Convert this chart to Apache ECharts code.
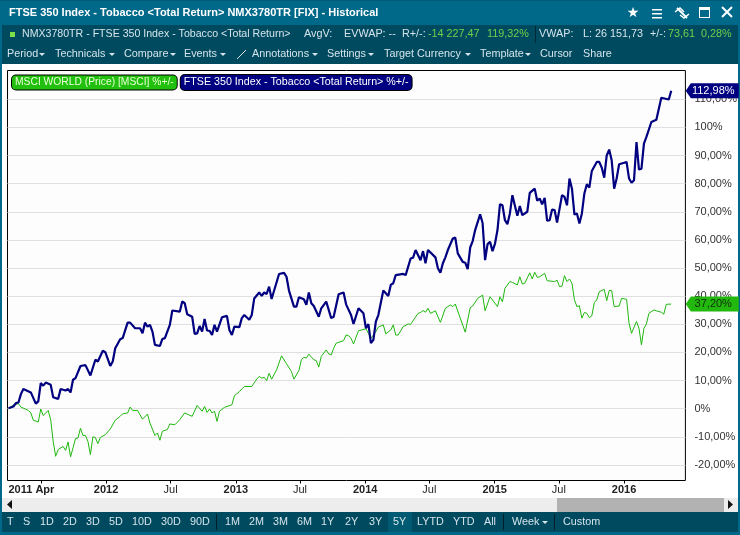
<!DOCTYPE html>
<html><head><meta charset="utf-8">
<style>html,body{margin:0;padding:0;background:#fff}#c{width:740px;height:535px}</style>
<script src="https://cdn.jsdelivr.net/npm/echarts@6/dist/echarts.min.js"></script>
</head><body><div id="c"></div>
<script>
// ---- data ----
const startDate = '2011-04-01';
const ftseWeeks = [0,2,3,4,5,6,9,11,12,13,14,15,17,18,20,21,23,24,25,26,27,29,31,33,35,36,38,39,41,42,43,45,46,48,49,51,53,54,55,56,57,58,59,61,62,63,65,66,69,70,71,72,74,75,76,77,78,79,80,81,82,83,84,86,88,89,90,91,93,94,95,97,98,99,101,102,103,104,105,106,109,111,112,113,115,116,117,119,120,121,122,123,125,126,128,130,131,133,135,136,138,139,141,143,144,145,146,147,148,149,151,153,154,155,156,159,160,162,163,164,166,167,168,169,172,173,174,175,176,177,179,180,181,182,183,184,185,186,187,188,190,191,192,193,194,195,196,197,198,199,200,201,202,203,205,206,207,209,210,212,213,214,215,216,217,218,219,220,221,223,224,225,226,227,228,229,230,231,232,233,234,235,237,238,239,240,241,242,243,244,245,246,248,249,250,251,252,253,254,255,256,257,259,261,262,263,266,267];
const ftseValues = [0.2,0.8,2,2.2,5.2,7,5.8,1.8,2.6,9.1,8.2,9.3,8.5,4.1,3.5,7,6.5,7,5.8,10.3,10.9,15.2,15.5,11.8,17.4,16.8,20.6,20.1,15.2,16.8,21.5,24.7,25.1,30.6,30.6,28.6,28.6,26.8,30.6,29.2,29.8,27.4,22.7,22.3,24.8,25.1,29.8,34.9,34.5,38.1,37.5,33.6,32.7,26.6,26.8,29.4,27.4,31.9,27.8,27.7,26.2,29.8,27.4,32.5,33,28,26.2,29.2,29,32.2,33.3,31.6,33.3,39.2,41.3,40.1,41.3,40.8,43.4,39,47.9,48.3,46.9,42,36.3,36.3,39.6,38.9,36.9,41.3,37.5,36.5,32.7,35.7,38.1,32.2,32.7,40.7,41.3,37.1,33.3,30.1,35.7,33.9,28.6,30.1,23.3,24.5,31,33.3,42,40.1,44,44.6,47.5,47.9,47.5,53.4,53.7,56.4,52.8,56,51.7,56.4,53.8,49.9,48.3,51.7,53.8,56.4,60.5,60.8,55.2,53.7,52.2,51.9,49.6,57.3,59.6,63.5,69.1,66,52.8,58.5,59.3,56,58.7,63.5,72.7,72.3,67,65.6,69.4,75.9,68.6,72,68.8,70,76.7,78.2,73.9,74.7,72.6,74.9,66.8,67,70.8,70.6,66.2,75.9,75.3,72.3,81.8,78.2,69,69.4,65.8,69.4,76.5,79.8,78.6,84.5,87.7,87.7,85.7,82.1,90,92.1,88.3,78.2,81.8,86.9,87.4,87.7,81.8,80.3,81.2,94.8,85,85.3,94.2,96.6,101.9,102.7,106.6,110.5,109.9,112.98];
const msciWeeks = [0,2,4,5,8,9,10,12,13,14,16,17,18,19,20,22,23,24,25,26,27,28,29,30,31,32,33,34,35,36,37,39,41,43,45,46,48,49,50,52,54,56,57,59,60,61,62,64,65,67,69,71,74,76,78,79,80,81,82,83,84,85,87,90,91,93,95,98,100,101,102,103,104,105,106,108,110,112,114,115,117,118,119,120,121,123,124,125,126,128,129,130,131,132,135,136,137,138,139,141,144,145,146,148,149,151,152,154,155,156,157,159,161,162,165,166,167,168,169,170,172,174,176,178,179,180,182,184,186,187,189,191,192,194,197,198,199,200,202,203,205,206,207,208,210,211,212,213,214,216,217,220,221,222,223,224,225,226,227,228,229,230,231,232,233,234,235,236,237,238,240,241,242,243,244,246,247,249,250,251,253,254,255,256,257,258,260,261,263,264,265,267];
const msciValues = [0,1.4,1.8,0.6,-0.6,-1.5,-4.1,-4.7,-0.1,-2.4,-0.6,-3.9,-11.6,-16.9,-14.5,-13.4,-14.8,-11.8,-17.1,-13.9,-10.6,-10.4,-6.9,-9.5,-9.5,-11.6,-16.3,-10,-10.2,-12.4,-10.2,-9.2,-7.2,-4.1,-2.7,-1.8,-1.5,0.6,-0.6,-0.6,-3.7,-1.9,-5.1,-9.5,-8.6,-11.2,-8,-7.4,-5.4,-5.7,-3.9,-1.5,-2.7,1.2,-0.9,0.8,-1.3,-0.1,-1.5,-0.9,-4.5,-0.9,0.5,1.4,4.6,6.1,7.9,7.9,10.5,11.5,10.9,11.2,10,12.6,10.5,13.8,18.8,16,13.2,10.5,13.6,17.4,18.3,18,19.4,17.4,17.1,14.8,18.6,20.9,19.5,19.1,21.5,23.3,24.2,26.2,26,25,23,27.7,28.4,26.8,25,27.4,29,29.8,26.6,28,29.8,26.2,26.2,29.2,30.1,30,33.9,34.2,34.9,34.3,35.7,33.9,34.8,30.7,35.7,36.9,36.3,37.2,32.2,27.2,35.9,36.5,39.2,40.4,34.8,39.8,36.3,39.8,38,42.8,45.2,44.9,44,46.9,44.3,44.6,48.3,46.1,48.5,46.7,46.9,48.1,45.5,45.2,45.7,43.4,43.6,47.3,45.2,46.1,44.6,38.7,36.3,36.6,32.2,34.2,33.9,32.4,33,37.7,38.7,41.6,42.4,38.4,42,42,36.3,36.5,39.2,38.9,30.4,26.8,31,28.6,22.7,28.6,30.1,33.9,35.1,34.8,34.3,33.6,37.1,37.2];
const ftseName = 'FTSE 350 Index - Tobacco <Total Return> %+/-';
const msciName = 'MSCI WORLD (Price) [MSCI] %+/-';
const ftseLast = '112,98%';
const msciLast = '37,20%';
const yTicks = [-20,-10,0,10,20,30,40,50,60,70,80,90,100,110];
const yLabels = ['-20,00%','-10,00%','0%','10,00%','20,00%','30,00%','40,00%','50,00%','60,00%','70,00%','80,00%','90,00%','100%','110,00%'];
const xLabelDates = ['2011-04-01','2012-01-01','2012-07-01','2013-01-01','2013-07-01','2014-01-01','2014-07-01','2015-01-01','2015-07-01','2016-01-01'];
const xLabelTexts = ['2011 Apr','2012','Jul','2013','Jul','2014','Jul','2015','Jul','2016'];
const xTickDates = ['2011-07-01','2012-01-01','2012-07-01','2013-01-01','2013-07-01','2014-01-01','2014-07-01','2015-01-01','2015-07-01','2016-01-01'];
const titleText = 'FTSE 350 Index - Tobacco <Total Return> NMX3780TR [FIX] - Historical';
const menuLabels = ['Period','Technicals','Compare','Events','Annotations','Settings','Target Currency','Template','Cursor','Share'];
const rangeLabels = ['T','S','1D','2D','3D','5D','10D','30D','90D','1M','2M','3M','6M','1Y','2Y','3Y','5Y','LYTD','YTD','All','Week','Custom'];

// ---- layout ----
const W = 740, H = 535;
const TEAL = '#00698a', DARK = '#004a60', SOFT = '#d5e4ea', UP = '#6fd04a';
const FONT = 'Liberation Sans, Arial, sans-serif';
const g = [];
const rect = (x,y,w,h,fill) => g.push({type:'rect',silent:true,z:1,shape:{x,y,width:w,height:h},style:{fill}});
const text = (x,y,t,fill,font) => g.push({type:'text',silent:true,z:3,x,y,style:{text:t,fill,font:font||('10.8px '+FONT),verticalAlign:'middle',align:'left'}});
const poly = (pts,fill) => g.push({type:'polygon',silent:true,z:3,shape:{points:pts},style:{fill}});
const stroke = (pts,col,w) => g.push({type:'polyline',silent:true,z:3,shape:{points:pts},style:{stroke:col,lineWidth:w||1,fill:null}});
const caret = (x,y) => poly([[x,y],[x+6,y],[x+3,y+3]],SOFT);

rect(0,0,W,25,TEAL); rect(0,0,W,1,'#005a78');
rect(0,25,W,39,DARK);
rect(0,25,2,H-25,TEAL); rect(738,25,2,H-25,TEAL); rect(0,532,W,3,TEAL);
rect(2,498,736,14,'#ededed'); rect(557,498,167,14,'#b2b2b2');
poly([[12,500],[12,509],[7,504.5]],'#111'); poly([[728,500],[728,509],[733,504.5]],'#111');
rect(2,512,736,20,DARK);

text(9,13,titleText,'#fff','bold 11px '+FONT);
// window buttons
g.push({type:'text',silent:true,z:3,x:633,y:13,style:{text:'★',fill:'#fff',font:'14px DejaVu Sans',align:'center',verticalAlign:'middle'}});
[9,13,17].forEach(y=>rect(652,y,10,1.5,'#fff'));
stroke([[677,8],[687,18]],'#fff',2); stroke([[675,12],[680,8],[684,12]],'#fff',1.5); stroke([[680,15],[684,18],[689,14]],'#fff',1.5);
rect(699,7,11,11,'#fff'); rect(700,10,9,7,TEAL);
stroke([[722,7],[732,17]],'#fff',2); stroke([[732,7],[722,17]],'#fff',2);

// status row
const STATUS = '10.6px '+FONT;
rect(10,32,5,5,'#7be04a');
text(22,34.5,'NMX3780TR - FTSE 350 Index - Tobacco <Total Return>',SOFT,STATUS);
text(304,34.5,'AvgV:',SOFT); text(344,34.5,'EVWAP: --',SOFT); text(402,34.5,'R+/-:',SOFT);
text(428,34.5,'-14 227,47',UP); text(487,34.5,'119,32%',UP);
rect(535,26,1,17,'#002a38');
text(539,34.5,'VWAP:',SOFT); text(583,34.5,'L: 26 151,73',SOFT); text(650,34.5,'+/-:',SOFT);
text(668,34.5,'73,61',UP); text(701,34.5,'0,28%',UP);

// menu row
const menuX = [7,55,124,184,252,327,384,480,540,583];
const caretX = [39,109,170,220,312,368,465,525,null,null];
menuLabels.forEach((t,i)=>{ text(menuX[i],54.5,t,SOFT); if(caretX[i]) caret(caretX[i],53); });
stroke([[237,59],[246,50]],SOFT,1);

// range row
const rangeX = [7,23,40,63,86,109,132,161,190,225,249,273,297,321,345,369,393,417,453,484,512,563];
rect(388,512,24,20,'#005a72');
rangeLabels.forEach((t,i)=>text(rangeX[i],522.5,t,SOFT));
caret(542,521);
[216,503,554].forEach(x=>rect(x,514,1,16,'#001f2b'));

const toPoint = (w,v) => [Date.parse(startDate)+w*7*864e5, v];
const xStart = Date.parse(startDate);
const labelMap = {}; xLabelDates.forEach((d,i)=>labelMap[Date.parse(d)]=xLabelTexts[i]);
const yMap = {}; yTicks.forEach((v,i)=>yMap[v]=yLabels[i]);

const tag = (label,offsetColor,textColor,w,v,off) => ({
  silent:true, z:6,
  symbol:'path://M0,7 L5,0 L52,0 L52,14 L5,14 Z',
  symbolSize:[53,15], symbolKeepAspect:false,
  data:[{coord:toPoint(w,v),symbolOffset:[off,0],value:label,
    itemStyle:{color:offsetColor},
    label:{show:true,position:'inside',formatter:label,color:textColor,fontSize:11,fontFamily:FONT,offset:[1,0]}}]
});

const chart = echarts.init(document.getElementById('c'),null,{renderer:'canvas',width:W,height:H});
chart.setOption({
  animation:false, backgroundColor:'#fff',
  textStyle:{fontFamily:FONT},
  grid:{left:7.5,top:70.5,width:678,height:410,show:true,borderColor:'#000',borderWidth:1,backgroundColor:'#fdfdfd',containLabel:false},
  legend:{left:7,top:74,itemGap:-2,itemWidth:0,itemHeight:0,icon:'none',selectedMode:false,orient:'horizontal',padding:0,
    data:[
      {name:msciName,textStyle:{color:'#eaffd8',backgroundColor:'#22c00e',borderColor:'#000',borderWidth:1,borderRadius:4,padding:[2,3,2,3],fontSize:10.3,fontFamily:FONT}},
      {name:ftseName,textStyle:{color:'#fff',backgroundColor:'#000080',borderColor:'#000',borderWidth:1,borderRadius:4,padding:[2,3,2,3],fontSize:10.7,fontFamily:FONT}}
    ]},
  xAxis:{type:'value',min:xStart-0.4*7*864e5,max:xStart+272.7*7*864e5,
    axisLine:{show:false,onZero:false},splitLine:{show:false},minorTick:{show:false},
    axisTick:{show:true,length:3,inside:false,lineStyle:{color:'#000',width:1},customValues:xTickDates.map(d=>Date.parse(d))},
    axisLabel:{show:true,margin:4,hideOverlap:false,alignMinLabel:'left',customValues:xLabelDates.map(d=>Date.parse(d)),
      color:'#222',fontSize:11,
      formatter:v=>{const t=labelMap[v]||''; return t==='Jul'?t:'{b|'+t+'}';},
      rich:{b:{fontWeight:'bold',fontSize:11,color:'#222',fontFamily:FONT}}}},
  yAxis:{type:'value',position:'right',min:-25.5,max:120.2,
    axisLine:{show:false,onZero:false},axisTick:{show:false,customValues:yTicks},
    splitLine:{show:true,lineStyle:{color:'#e0e0e0',width:1}},
    axisLabel:{margin:9,align:'left',color:'#333',fontSize:11,customValues:yTicks,formatter:v=>yMap[v]||''}},
  series:[
    {name:msciName,type:'line',showSymbol:false,symbol:'none',z:3,color:'#1fb80e',lineStyle:{width:1,color:'#1fb80e'},
     data:msciWeeks.map((w,i)=>toPoint(w,msciValues[i])),
     markPoint:tag(msciLast,'#22b80e','#10300a',msciWeeks[msciWeeks.length-1],msciValues[msciValues.length-1],41)},
    {name:ftseName,type:'line',showSymbol:false,symbol:'none',z:4,color:'#000080',lineStyle:{width:2.2,color:'#000080'},
     data:ftseWeeks.map((w,i)=>toPoint(w,ftseValues[i])),
     markPoint:tag(ftseLast,'#000080','#fff',ftseWeeks[ftseWeeks.length-1],ftseValues[ftseValues.length-1],41)}
  ],
  graphic:{elements:g}
});
</script></body></html>
